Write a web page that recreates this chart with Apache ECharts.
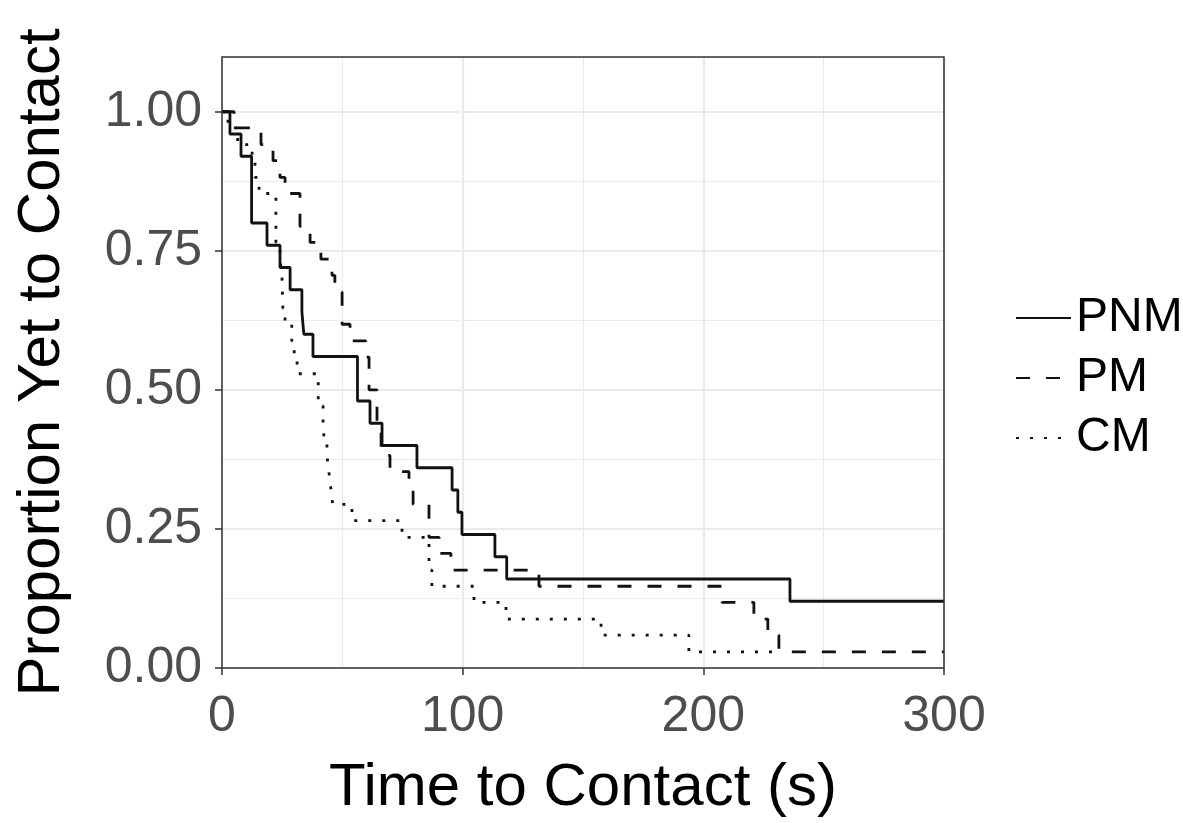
<!DOCTYPE html>
<html>
<head>
<meta charset="utf-8">
<script src="https://cdn.jsdelivr.net/npm/echarts@6/dist/echarts.min.js"></script>
<style>
html,body{margin:0;padding:0;background:#fff;}
#chart{width:1183px;height:823px;}
</style>
</head>
<body>
<div id="chart"></div>
<script>
// ---- data (Kaplan-Meier step curves) ----
const seriesNames = ['PNM', 'PM', 'CM'];

const pnmTime = [0, 3.3, 7.9, 12.3, 18.7, 24.1, 28.3, 33.2, 34.0, 37.8, 56.3, 61.5, 66.5, 81.0, 95.6, 98.0, 99.7, 113.4, 118.3, 236.0, 300];
const pnmSurv = [1.00, 0.96, 0.92, 0.80, 0.76, 0.72, 0.68, 0.64, 0.60, 0.56, 0.48, 0.44, 0.40, 0.36, 0.32, 0.28, 0.24, 0.20, 0.16, 0.12, 0.12];

const pmTime = [0, 5.0, 16.2, 21.2, 24.1, 26.2, 32.4, 36.6, 41.1, 45.7, 46.9, 49.9, 53.2, 59.8, 61.1, 64.4, 66.1, 69.8, 77.7, 79.4, 86.0, 90.2, 95.1, 131.7, 207.7, 221.0, 226.8, 231.4, 300];
const pmSurv = [1.000, 0.971, 0.941, 0.912, 0.882, 0.853, 0.794, 0.765, 0.735, 0.706, 0.676, 0.618, 0.588, 0.559, 0.500, 0.441, 0.382, 0.353, 0.324, 0.294, 0.235, 0.206, 0.176, 0.147, 0.118, 0.088, 0.059, 0.029, 0.029];

const cmTime = [0, 2.5, 6.5, 12.5, 13.7, 15.4, 22.4, 24.1, 24.9, 25.3, 26.2, 29.0, 30.0, 31.2, 40.0, 42.0, 42.4, 43.6, 44.4, 45.2, 46.0, 54.0, 74.8, 86.0, 87.2, 104.7, 118.0, 157.5, 194.0, 232.0];
const cmSurv = [1.000, 0.971, 0.941, 0.912, 0.882, 0.853, 0.765, 0.735, 0.706, 0.647, 0.618, 0.588, 0.559, 0.529, 0.471, 0.441, 0.412, 0.382, 0.353, 0.324, 0.294, 0.265, 0.235, 0.176, 0.147, 0.118, 0.088, 0.059, 0.029, 0.029];

const xTicks = [0, 100, 200, 300];
const yTicks = [0, 0.25, 0.5, 0.75, 1.0];
const xTitle = 'Time to Contact (s)';
const yTitle = 'Proportion Yet to Contact';

// ---- chart ----
const pair = (t, s) => t.map((v, i) => [v, s[i]]);
const FONT = '"Liberation Sans", Arial, Helvetica, sans-serif';
const chart = echarts.init(document.getElementById('chart'), null, {renderer: 'canvas'});

const majorGrid = {show: true, lineStyle: {color: '#EBEBEB', width: 2.2}};
const minorGrid = {show: true, lineStyle: {color: '#EBEBEB', width: 1.1}};
const hidden = {axisLabel: {show: false}, axisTick: {show: false}, axisLine: {show: false}};

const lineSeries = (name, data, type) => ({
  name: name, type: 'line', step: 'end', data: data,
  xAxisIndex: 0, yAxisIndex: 0,
  showSymbol: false, symbol: 'none', silent: true, animation: false,
  lineStyle: {color: '#111', width: 2.8, type: type, cap: 'butt'},
  itemStyle: {color: '#111'}
});

chart.setOption({
  backgroundColor: '#fff',
  animation: false,
  grid: {left: 222, top: 57, width: 722, height: 614, show: true, z: 5,
         borderColor: '#333', borderWidth: 1.5, backgroundColor: 'transparent'},
  xAxis: [
    {type: 'value', min: 0, max: 300, interval: 100, position: 'bottom',
     splitLine: majorGrid, axisLine: {show: false},
     axisTick: {show: true, length: 7, lineStyle: {color: '#333', width: 1.5}, customValues: xTicks},
     axisLabel: {show: true, customValues: xTicks, margin: 24, color: '#4D4D4D', fontSize: 50, fontFamily: FONT},
     name: xTitle, nameLocation: 'middle', nameGap: 90,
     nameTextStyle: {color: '#000', fontSize: 60, fontFamily: FONT}},
    Object.assign({type: 'value', min: 0, max: 300, interval: 50, position: 'bottom', splitLine: minorGrid}, hidden)
  ],
  yAxis: [
    {type: 'value', min: 0, max: 1.0984, interval: 0.25, position: 'left',
     splitLine: majorGrid, axisLine: {show: false},
     axisTick: {show: true, length: 7, lineStyle: {color: '#333', width: 1.5}, customValues: yTicks},
     axisLabel: {show: true, customValues: yTicks, margin: 20, color: '#4D4D4D', fontSize: 50, fontFamily: FONT,
                 formatter: v => v.toFixed(2)},
     name: yTitle, nameLocation: 'middle', nameGap: 150,
     nameTextStyle: {color: '#000', fontSize: 60, fontFamily: FONT}},
    Object.assign({type: 'value', min: 0, max: 1.0984, interval: 0.125, position: 'left', splitLine: minorGrid}, hidden)
  ],
  legend: {
    show: true, orient: 'vertical', left: 1010, top: 289,
    itemWidth: 55, itemHeight: 14, itemGap: 12,
    data: seriesNames,
    itemStyle: {opacity: 0},
    textStyle: {color: '#000', fontSize: 48, fontFamily: FONT, lineHeight: 48},
    selectedMode: false
  },
  series: [
    lineSeries(seriesNames[0], pair(pnmTime, pnmSurv), 'solid'),
    lineSeries(seriesNames[1], pair(pmTime, pmSurv), [14, 16]),
    lineSeries(seriesNames[2], pair(cmTime, cmSurv), [3, 11])
  ]
});
</script>
</body>
</html>
